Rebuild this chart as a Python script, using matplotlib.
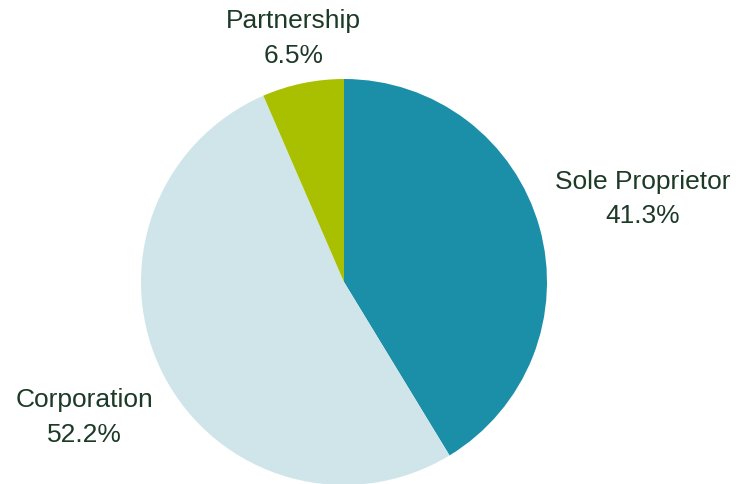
import matplotlib

matplotlib.use("Agg")
import matplotlib.pyplot as plt  # noqa: E402
import numpy as np  # noqa: E402

# --- data (clockwise from 12 o'clock) ---
labels = ["Sole Proprietor", "Corporation", "Partnership"]
shares = [41.3, 52.2, 6.5]
colors = ["#1b8fa8", "#d0e5ea", "#a8c000"]
label_dist = [1.53, 1.44, 1.23]

TEXT_COLOR = "#1c3a26"
W, H = 746, 485
cx, cy, r = 344, 283, 203  # pie centre / radius in pixels (from top-left)

fig = plt.figure(figsize=(W / 100, H / 100), dpi=100)
ax = fig.add_axes([(cx - r) / W, (H - cy - r) / H, 2 * r / W, 2 * r / H])

wedges, _ = ax.pie(
    shares, colors=colors, startangle=90, counterclock=False,
    radius=1.0, wedgeprops={"linewidth": 0},
)
for w in wedges:
    w.set_clip_on(False)

# labels placed along each wedge's bisector
for w, lab, val, d in zip(wedges, labels, shares, label_dist):
    ang = np.deg2rad((w.theta1 + w.theta2) / 2)
    ax.text(
        d * np.cos(ang), d * np.sin(ang), f"{lab}\n{val:.1f}%",
        ha="center", va="center", fontsize=19, color=TEXT_COLOR,
        family="Liberation Sans", linespacing=1.55, clip_on=False,
    )

ax.set_xlim(-1, 1)
ax.set_ylim(-1, 1)
ax.set_aspect("equal")
ax.axis("off")

fig.savefig("out.png", dpi=100, facecolor="white")
plt.close(fig)
